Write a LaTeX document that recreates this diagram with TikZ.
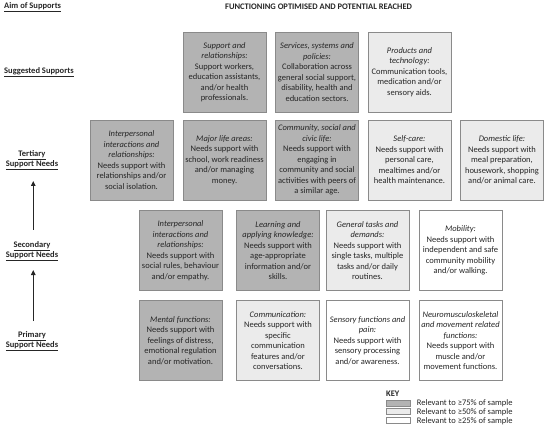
\documentclass[tikz,border=0pt]{standalone}
\usepackage{fontspec}
\setmainfont{Carlito}
\usetikzlibrary{arrows.meta}
\definecolor{dk}{HTML}{B3B3B3}
\definecolor{lt}{HTML}{EBEBEB}
\definecolor{bd}{HTML}{8A8A8A}
\definecolor{tx}{HTML}{262626}
\begin{document}
\begin{tikzpicture}[x=1pt,y=-1pt,
  box/.style={draw=bd,line width=0.6pt,minimum width=83pt,minimum height=80pt,inner sep=0pt,align=center,text=tx,font=\fontsize{8.5}{10.5}\selectfont},
  dkbox/.style={box,fill=dk},
  ltbox/.style={box,fill=lt},
  whbox/.style={box,fill=white},
  lbl/.style={font=\fontsize{8.5}{10}\selectfont\bfseries,text=tx,align=center,inner sep=0pt},
  keybox/.style={draw=bd,line width=0.6pt,minimum width=24.7pt,minimum height=6pt,inner sep=0pt},
  keytxt/.style={font=\fontsize{8.5}{9}\selectfont,text=tx,anchor=west,inner sep=0pt},
  arr/.style={draw=tx,line width=1.1pt,-{Triangle[length=5pt,width=4.5pt]}}
]
\useasboundingbox[fill=white] (0,0) rectangle (550,428);

% left labels and title
\node[lbl,anchor=west] (aim) at (4,7) {\underline{Aim of Supports}};
\node[lbl] (title) at (318.6,7) {FUNCTIONING OPTIMISED AND POTENTIAL REACHED};
\node[lbl,anchor=west] (sug) at (4,72) {\underline{Suggested Supports}};
\node[lbl] (ter) at (32,160) {\underline{Tertiary}\\\underline{Support Needs}};
\node[lbl] (sec) at (32,251) {\underline{Secondary}\\\underline{Support Needs}};
\node[lbl] (pri) at (32,341.5) {\underline{Primary}\\\underline{Support Needs}};

\coordinate (a1s) at (33.3,230);
\coordinate (a1e) at (33.3,181);
\coordinate (a2s) at (33.3,321);
\coordinate (a2e) at (33.3,270);
\draw[arr] (a1s) -- (a1e);
\draw[arr] (a2s) -- (a2e);

% row 1: suggested supports
\node[dkbox] (a1) at (224.5,72) {\textit{Support and}\\\textit{relationships:}\\Support workers,\\education assistants,\\and/or health\\professionals.};
\node[dkbox] (a2) at (317,72) {\textit{Services, systems and}\\\textit{policies:}\\Collaboration across\\general social support,\\disability, health and\\education sectors.};
\node[ltbox] (a3) at (409.5,72) {\textit{Products and}\\\textit{technology:}\\Communication tools,\\medication and/or\\sensory aids.};

% row 2: tertiary
\node[dkbox] (b1) at (131.5,160) {\textit{Interpersonal}\\\textit{interactions and}\\\textit{relationships:}\\Needs support with\\relationships and/or\\social isolation.};
\node[dkbox] (b2) at (224.5,160) {\textit{Major life areas:}\\Needs support with\\school, work readiness\\and/or managing\\money.};
\node[dkbox] (b3) at (317,160) {\textit{Community, social and}\\\textit{civic life:}\\Needs support with\\engaging in\\community and social\\activities with peers of\\a similar age.};
\node[ltbox] (b4) at (409.5,160) {\textit{Self-care:}\\Needs support with\\personal care,\\mealtimes and/or\\health maintenance.};
\node[ltbox] (b5) at (502,160) {\textit{Domestic life:}\\Needs support with\\meal preparation,\\housework, shopping\\and/or animal care.};

% row 3: secondary
\node[dkbox] (c1) at (180.5,250.5) {\textit{Interpersonal}\\\textit{interactions and}\\\textit{relationships:}\\Needs support with\\social rules, behaviour\\and/or empathy.};
\node[dkbox] (c2) at (278,250.5) {\textit{Learning and}\\\textit{applying knowledge:}\\Needs support with\\age-appropriate\\information and/or\\skills.};
\node[ltbox] (c3) at (367.5,250.5) {\textit{General tasks and}\\\textit{demands:}\\Needs support with\\single tasks, multiple\\tasks and/or daily\\routines.};
\node[whbox] (c4) at (460.5,250.5) {\textit{Mobility:}\\Needs support with\\independent and safe\\community mobility\\and/or walking.};

% row 4: primary
\node[dkbox] (d1) at (180.5,340.5) {\textit{Mental functions:}\\Needs support with\\feelings of distress,\\emotional regulation\\and/or motivation.};
\node[ltbox] (d2) at (278,340.5) {\textit{Communication:}\\Needs support with\\specific\\communication\\features and/or\\conversations.};
\node[whbox] (d3) at (367.5,340.5) {\textit{Sensory functions and}\\\textit{pain:}\\Needs support with\\sensory processing\\and/or awareness.};
\node[whbox] (d4) at (460.5,340.5) {\textit{Neuromusculoskeletal}\\\textit{and movement related}\\\textit{functions:}\\Needs support with\\muscle and/or\\movement functions.};

% key
\node[lbl,anchor=west] (key) at (386,394) {KEY};
\node[keybox,fill=dk] (k1) at (398.3,403) {};
\node[keybox,fill=lt] (k2) at (398.3,411.7) {};
\node[keybox,fill=white] (k3) at (398.3,420.3) {};
\node[keytxt] (t1) at (416.7,403.5) {Relevant to ≥75\% of sample};
\node[keytxt] (t2) at (416.7,412.5) {Relevant to ≥50\% of sample};
\node[keytxt] (t3) at (416.7,421.5) {Relevant to ≥25\% of sample};
\end{tikzpicture}
\end{document}
